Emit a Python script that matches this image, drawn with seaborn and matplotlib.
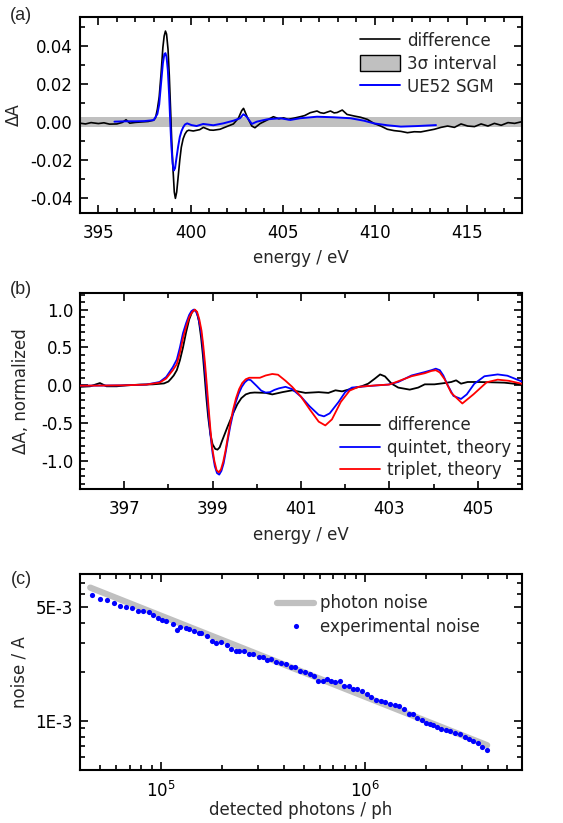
import matplotlib
matplotlib.use("Agg")
import numpy as np
import pandas as pd
import seaborn as sns
import matplotlib.pyplot as plt
from matplotlib.ticker import MultipleLocator, LogLocator, FixedLocator, FixedFormatter, NullFormatter, FormatStrFormatter
from matplotlib.patches import Patch
from matplotlib.lines import Line2D

# ---------------- data: panel (a) ----------------
a_diff_x = [394.0, 394.3, 394.6, 395.0, 395.3, 395.6, 396.0, 396.3, 396.5, 396.7, 397.0, 397.4, 397.7,
            398.0, 398.1, 398.2, 398.3, 398.4, 398.5, 398.57, 398.64, 398.7, 398.78, 398.85, 398.92,
            398.98, 399.05, 399.12, 399.18, 399.25, 399.33, 399.42, 399.5, 399.6, 399.7, 399.8, 399.9,
            400.15, 400.5, 400.7, 400.87, 401.05, 401.24, 401.6, 401.96, 402.33, 402.6, 402.78,
            402.88, 403.1, 403.33, 403.5, 403.78, 404.15, 404.5, 404.8, 405.05, 405.3, 405.6, 405.96,
            406.2, 406.5, 406.87, 407.05, 407.24, 407.6, 407.8, 407.96, 408.24, 408.5, 408.87, 409.24,
            409.6, 409.96, 410.33, 410.69, 411.05, 411.42, 411.78, 412.15, 412.5, 412.87, 413.24, 413.6,
            413.96, 414.33, 414.69, 415.05, 415.42, 415.78, 416.15, 416.5, 416.87, 417.24, 417.6, 418.0]
a_diff_y = [-0.0008, -0.0012, -0.0005, -0.0010, -0.0006, -0.0013, -0.0012, -0.0004, 0.0010, -0.0008,
            -0.0004, -0.0001, 0.0001,
            0.0008, 0.0020, 0.0065, 0.0130, 0.0250, 0.0390, 0.0450, 0.0476, 0.0460, 0.0380, 0.0240,
            0.0060, -0.0100, -0.0250, -0.0370, -0.0403, -0.0370, -0.0290, -0.0200, -0.0135, -0.0090,
            -0.0065, -0.0050, -0.0045,
            -0.0049, -0.0042, -0.0030, -0.0037, -0.0044, -0.0045, -0.0040, -0.0026, -0.0012, 0.0018,
            0.0058, 0.0070, 0.0020, -0.0023, -0.0032, -0.0010, 0.0008, 0.0026, 0.0015, 0.0020, 0.0012,
            0.0018, 0.0026, 0.0032, 0.0047, 0.0056, 0.0047, 0.0044, 0.0056, 0.0046, 0.0048, 0.0061,
            0.0038, 0.0030, 0.0023, 0.0012, -0.0009, -0.0023, -0.0040, -0.0047, -0.0051, -0.0058,
            -0.0053, -0.0054, -0.0047, -0.0040, -0.0030, -0.0023, -0.0030, -0.0012, -0.0023, -0.0026,
            -0.0012, -0.0023, -0.0009, -0.0019, -0.0005, -0.0009, 0.0000]
a_sgm_x = [395.87, 396.5, 397.0, 397.5, 398.0, 398.2, 398.3, 398.4, 398.5, 398.58, 398.64, 398.7,
           398.77, 398.84, 398.9, 398.96, 399.03, 399.09, 399.16, 399.24, 399.33, 399.42, 399.51,
           399.6, 399.7, 399.82, 400.05, 400.33, 400.69, 401.24, 401.78, 402.33, 402.69,
           402.87, 403.05, 403.33, 403.6, 404.15, 404.87, 405.42, 405.96, 406.87, 407.78, 408.69, 409.42,
           409.96, 410.69, 411.42, 412.33, 413.33]
a_sgm_y = [0.0000, 0.0002, 0.0002, 0.0003, 0.0008, 0.0040, 0.0090, 0.0200, 0.0306, 0.0355, 0.0360,
           0.0340, 0.0270, 0.0140, 0.0000, -0.0125, -0.0220, -0.0257, -0.0245, -0.0190, -0.0130,
           -0.0080, -0.0050, -0.0030, -0.0015, -0.0009, -0.0018, -0.0023, -0.0012, -0.0019,
           -0.0009, 0.0005, 0.0018, 0.0039, 0.0026, -0.0012, 0.0000, 0.0012, 0.0018, 0.0009, 0.0018,
           0.0026, 0.0023, 0.0018, 0.0005, -0.0009, -0.0019, -0.0026, -0.0023, -0.0018]
band_x = [394.0, 418.0]
band_hi = [0.0026, 0.0026]
band_lo = [-0.0026, -0.0026]

# ---------------- data: panel (b) ----------------
b_diff_x = [396.0, 396.23, 396.45, 396.6, 396.83, 397.05, 397.35, 397.65, 397.9, 398.0, 398.06,
            398.12, 398.19, 398.26, 398.33, 398.4, 398.47, 398.53, 398.59, 398.64, 398.69, 398.74,
            398.78, 398.82, 398.86, 398.9, 398.95, 399.0, 399.06, 399.11, 399.16, 399.21, 399.27,
            399.33, 399.4, 399.48, 399.56, 399.65, 399.75, 399.85, 399.95, 400.2, 400.35, 400.58,
            400.8, 401.1, 401.4, 401.62, 401.78, 401.93, 402.15, 402.37, 402.52, 402.67, 402.79,
            402.9, 403.05, 403.2, 403.46, 403.65, 403.8, 404.02, 404.25, 404.4, 404.51, 404.62,
            404.77, 405.0, 405.3, 405.6, 406.0]
b_diff_y = [-0.02, -0.013, 0.03, -0.013, -0.013, 0.0, 0.009, 0.013, 0.025, 0.05, 0.088, 0.13, 0.2,
            0.33, 0.5, 0.7, 0.87, 0.96, 1.0, 0.97, 0.85, 0.63, 0.4, 0.12, -0.17, -0.42, -0.65, -0.78,
            -0.84, -0.85, -0.82, -0.74, -0.65, -0.56, -0.46, -0.35, -0.25, -0.17, -0.12, -0.10, -0.095,
            -0.10, -0.12, -0.09, -0.066, -0.10, -0.09, -0.10, -0.066, -0.08, -0.044, -0.013, 0.022,
            0.088, 0.144, 0.118, 0.022, -0.03, -0.057, -0.03, 0.013, 0.013, 0.03, 0.044, 0.066, 0.022,
            0.044, 0.044, 0.04, 0.035, 0.01]
b_quin_x = [396.0, 396.5, 397.0, 397.5, 397.8, 397.95, 398.1, 398.19, 398.26, 398.33, 398.4, 398.47,
            398.52, 398.57, 398.62, 398.67, 398.72, 398.76, 398.8, 398.84, 398.88, 398.92, 398.96,
            399.0, 399.05, 399.1, 399.15, 399.2, 399.25, 399.3, 399.35, 399.4, 399.46, 399.52, 399.59,
            399.66, 399.73, 399.8, 399.86, 399.93, 400.0, 400.1, 400.2, 400.3, 400.4, 400.5, 400.65,
            400.8, 401.0, 401.2, 401.4, 401.52, 401.65, 401.85, 402.0, 402.15, 402.45, 402.97, 403.2,
            403.5, 403.8, 403.95, 404.05, 404.14, 404.22, 404.32, 404.45, 404.62, 404.75, 404.92,
            405.15, 405.45, 405.67, 406.0]
b_quin_y = [-0.005, -0.003, 0.0, 0.01, 0.044, 0.11, 0.24, 0.34, 0.5, 0.69, 0.82, 0.93, 0.98, 1.0,
            0.98, 0.91, 0.77, 0.62, 0.38, 0.12, -0.17, -0.45, -0.70, -0.90, -1.07, -1.16, -1.18, -1.13,
            -1.03, -0.87, -0.70, -0.54, -0.38, -0.23, -0.11, -0.02, 0.04, 0.075, 0.07, 0.03, -0.01,
            -0.07, -0.096, -0.09, -0.06, -0.04, -0.02, -0.05, -0.15, -0.28, -0.39, -0.41, -0.37, -0.22,
            -0.09, -0.03, -0.013, 0.01, 0.044, 0.13, 0.175, 0.2, 0.22, 0.2, 0.13, 0.0, -0.14, -0.18,
            -0.12, 0.02, 0.12, 0.144, 0.127, 0.05]
b_trip_x = [396.0, 396.5, 397.0, 397.5, 397.8, 397.95, 398.1, 398.19, 398.26, 398.33, 398.4, 398.47,
            398.54, 398.6, 398.65, 398.7, 398.75, 398.79, 398.83, 398.87, 398.91, 398.95, 398.99,
            399.04, 399.09, 399.14, 399.19, 399.24, 399.29, 399.34, 399.4, 399.46, 399.53, 399.6,
            399.67, 399.75, 399.83, 399.93, 400.07, 400.2, 400.35, 400.48, 400.65, 400.8, 401.0,
            401.2, 401.4, 401.55, 401.7, 401.9, 402.1, 402.3, 402.7, 403.0, 403.5, 403.8, 403.95,
            404.05, 404.14, 404.25, 404.4, 404.65, 404.9, 405.2, 405.45, 405.7, 406.0]
b_trip_y = [-0.005, -0.003, 0.0, 0.01, 0.035, 0.09, 0.2, 0.28, 0.43, 0.62, 0.77, 0.9, 0.97, 1.0,
            0.97, 0.87, 0.72, 0.52, 0.28, 0.0, -0.3, -0.58, -0.82, -1.0, -1.12, -1.15, -1.11, -1.01,
            -0.87, -0.70, -0.50, -0.33, -0.17, -0.05, 0.03, 0.08, 0.1, 0.1, 0.1, 0.13, 0.15, 0.14,
            0.06, -0.02, -0.15, -0.32, -0.48, -0.53, -0.45, -0.22, -0.07, -0.02, 0.0, 0.01, 0.12,
            0.16, 0.19, 0.2, 0.17, 0.08, -0.1, -0.24, -0.12, 0.04, 0.075, 0.06, 0.02]

# ---------------- data: panel (c) ----------------
photon_N = [4.49e4, 3.98e6]
photon_noise = [6.6e-3, 7.1e-4]
exp_N = [45700, 50000, 54400, 58600, 63200, 67400, 72100, 77100, 81900, 87000, 91700, 96700,
         101100, 105800, 115000, 119800, 124400, 132100, 136700, 145200, 153600, 157700, 167400,
         177800, 186100, 196100, 209800, 221200, 233200, 242100, 255300, 271000, 283700, 303400,
         317700, 332100, 345000, 366200, 389000, 408400, 432100, 452000, 480000, 508000, 535600,
         562300, 590400, 620200, 653700, 681300, 715500, 754300, 792000, 831800, 870000, 917200,
         966800, 1019000, 1074000, 1132000, 1194000, 1258000, 1326000, 1398000, 1473000, 1553000,
         1637000, 1726000, 1805000, 1903000, 1991000, 2083000, 2163000, 2263000, 2367000, 2495000,
         2630000, 2773000, 2923000, 3082000, 3224000, 3398000, 3582000, 3746000, 3980000]
exp_noise = [5.98e-3, 5.65e-3, 5.55e-3, 5.32e-3, 5.08e-3, 5.05e-3, 4.93e-3, 4.73e-3, 4.77e-3, 4.69e-3,
             4.49e-3, 4.27e-3, 4.17e-3, 4.11e-3, 3.92e-3, 3.62e-3, 3.79e-3, 3.71e-3, 3.67e-3, 3.57e-3,
             3.47e-3, 3.49e-3, 3.33e-3, 3.10e-3, 3.00e-3, 3.06e-3, 2.94e-3, 2.76e-3, 2.69e-3, 2.69e-3,
             2.68e-3, 2.58e-3, 2.57e-3, 2.47e-3, 2.46e-3, 2.38e-3, 2.42e-3, 2.32e-3, 2.26e-3, 2.23e-3,
             2.15e-3, 2.15e-3, 2.04e-3, 2.01e-3, 1.95e-3, 1.89e-3, 1.76e-3, 1.76e-3, 1.80e-3, 1.75e-3,
             1.73e-3, 1.77e-3, 1.64e-3, 1.63e-3, 1.58e-3, 1.57e-3, 1.52e-3, 1.46e-3, 1.41e-3, 1.34e-3,
             1.33e-3, 1.31e-3, 1.28e-3, 1.25e-3, 1.23e-3, 1.18e-3, 1.11e-3, 1.11e-3, 1.04e-3, 1.01e-3,
             0.972e-3, 0.963e-3, 0.945e-3, 0.923e-3, 0.898e-3, 0.881e-3, 0.873e-3, 0.849e-3, 0.833e-3,
             0.802e-3, 0.772e-3, 0.755e-3, 0.737e-3, 0.697e-3, 0.665e-3]

c_ytick_vals = [1e-3, 5e-3]
c_ytick_labels = ["1E-3", "5E-3"]

# ---------------- style ----------------
sns.set_style("ticks")
plt.rcParams["font.family"] = ["DejaVu Sans"]
plt.rcParams["axes.unicode_minus"] = False
plt.rcParams["font.size"] = 12
plt.rcParams["axes.linewidth"] = 1.5

W, H = 563, 823
fig = plt.figure(figsize=(W / 100, H / 100), dpi=100)

def px_axes(left, top, right, bottom):
    return fig.add_axes([left / W, 1 - bottom / H, (right - left) / W, (bottom - top) / H])

axA = px_axes(80, 17, 522, 213)
axB = px_axes(80, 293, 522, 489)
axC = px_axes(80, 574, 522, 770)

def style_ticks(ax):
    ax.tick_params(which="both", direction="in", top=True, right=True, labelsize=12,
                   width=1.2, colors="black")
    ax.tick_params(which="major", length=6)
    ax.tick_params(which="minor", length=3.5)
    ax.tick_params(axis="y", which="major", pad=5)
    ax.tick_params(axis="x", which="major", pad=8)
    for s in ax.spines.values():
        s.set_linewidth(1.5)
        s.set_color("black")

# ---- panel (a)
axA.fill_between(band_x, band_lo, band_hi, color="#c0c0c0", lw=0, zorder=1)
sns.lineplot(x=a_diff_x, y=a_diff_y, ax=axA, color="black", lw=1.2, estimator=None, sort=False, zorder=3)
sns.lineplot(x=a_sgm_x, y=a_sgm_y, ax=axA, color="#0000ff", lw=1.4, estimator=None, sort=False, zorder=4)
axA.set_xlim(394, 418)
axA.set_ylim(-0.048, 0.055)
axA.xaxis.set_major_locator(FixedLocator([395, 400, 405, 410, 415]))
axA.xaxis.set_minor_locator(MultipleLocator(1))
axA.yaxis.set_major_locator(MultipleLocator(0.02))
axA.yaxis.set_minor_locator(MultipleLocator(0.01))
axA.yaxis.set_major_formatter(FormatStrFormatter("%.2f"))
axA.set_xlabel("energy / eV", fontsize=12, labelpad=5)
axA.set_ylabel("ΔA", fontsize=12, labelpad=5)
style_ticks(axA)
hA = [Line2D([], [], color="black", lw=1.2),
      Patch(facecolor="#c0c0c0", edgecolor="black", lw=1.0),
      Line2D([], [], color="#0000ff", lw=1.4)]
axA.legend(hA, ["difference", "3σ interval", "UE52 SGM"], loc="upper left",
           bbox_to_anchor=(0.608, 0.985), frameon=False, fontsize=12, handlelength=2.4,
           handleheight=1.1, handletextpad=0.4, labelspacing=0.3, borderpad=0.2)

# ---- panel (b)
sns.lineplot(x=b_diff_x, y=b_diff_y, ax=axB, color="black", lw=1.3, estimator=None, sort=False, zorder=3)
sns.lineplot(x=b_quin_x, y=b_quin_y, ax=axB, color="#0000ff", lw=1.3, estimator=None, sort=False, zorder=4)
sns.lineplot(x=b_trip_x, y=b_trip_y, ax=axB, color="#ff0000", lw=1.3, estimator=None, sort=False, zorder=5)
axB.set_xlim(396, 406)
axB.set_ylim(-1.37, 1.22)
axB.xaxis.set_major_locator(FixedLocator([397, 399, 401, 403, 405]))
axB.xaxis.set_minor_locator(MultipleLocator(1))
axB.yaxis.set_major_locator(MultipleLocator(0.5))
axB.yaxis.set_minor_locator(MultipleLocator(0.1))
axB.yaxis.set_major_formatter(FormatStrFormatter("%.1f"))
axB.set_xlabel("energy / eV", fontsize=12, labelpad=6)
axB.set_ylabel("ΔA, normalized", fontsize=12, labelpad=8)
style_ticks(axB)
hB = [Line2D([], [], color="black", lw=1.3),
      Line2D([], [], color="#0000ff", lw=1.3),
      Line2D([], [], color="#ff0000", lw=1.3)]
axB.legend(hB, ["difference", "quintet, theory", "triplet, theory"], loc="upper left",
           bbox_to_anchor=(0.562, 0.43), frameon=False, fontsize=12, handlelength=2.4,
           handletextpad=0.4, labelspacing=0.25, borderpad=0.2)

# ---- panel (c)
sns.lineplot(x=photon_N, y=photon_noise, ax=axC, color="#c0c0c0", lw=4.5, estimator=None,
             sort=False, zorder=2, solid_capstyle="round")
sns.scatterplot(x=exp_N, y=exp_noise, ax=axC, color="#0000ff", s=14, linewidth=0, zorder=3)
axC.set_xscale("log")
axC.set_yscale("log")
axC.set_xlim(4.0e4, 5.9e6)
axC.set_ylim(5e-4, 8e-3)
axC.xaxis.set_major_locator(LogLocator(base=10, numticks=10))
axC.xaxis.set_minor_locator(LogLocator(base=10, subs=np.arange(2, 10), numticks=20))
axC.xaxis.set_minor_formatter(NullFormatter())
axC.yaxis.set_major_locator(FixedLocator(c_ytick_vals))
axC.yaxis.set_major_formatter(FixedFormatter(c_ytick_labels))
axC.yaxis.set_minor_locator(LogLocator(base=10, subs=np.arange(2, 10), numticks=20))
axC.yaxis.set_minor_formatter(NullFormatter())
axC.set_xlabel("detected photons / ph", fontsize=12, labelpad=0)
axC.set_ylabel("noise / A", fontsize=12, labelpad=5)
style_ticks(axC)
hC = [Line2D([], [], color="#c0c0c0", lw=4.5, solid_capstyle="round"),
      Line2D([], [], color="#0000ff", marker="o", ms=3.7, lw=0, mec="none")]
axC.legend(hC, ["photon noise", "experimental noise"], loc="upper left",
           bbox_to_anchor=(0.42, 0.955), frameon=False, fontsize=12, handlelength=2.2,
           handletextpad=0.35, labelspacing=0.35, borderpad=0.2)

# panel letters
for lab, y in [("(a)", 15), ("(b)", 290), ("(c)", 580)]:
    fig.text(21 / W, 1 - y / H, lab, fontsize=13, ha="center", va="center",
             family=["Liberation Sans", "DejaVu Sans"])

fig.savefig("out.png", dpi=100)
